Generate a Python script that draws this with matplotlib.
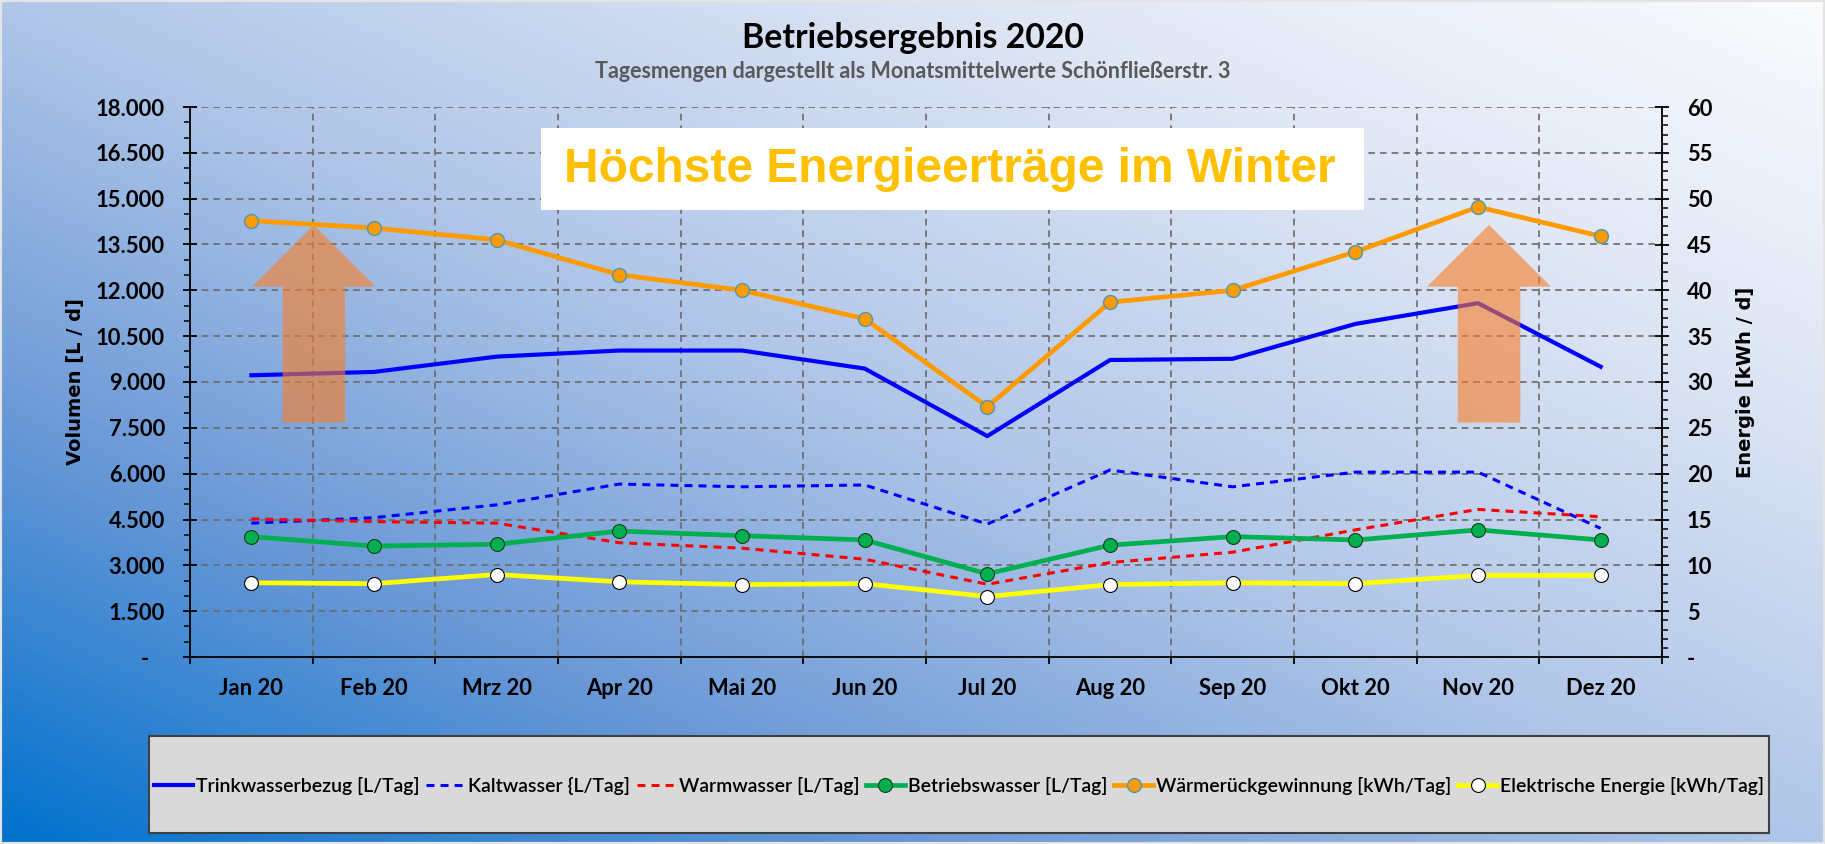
import matplotlib
matplotlib.use("Agg")
import matplotlib.pyplot as plt
import numpy as np
from matplotlib.patches import FancyArrow, Rectangle
from matplotlib.ticker import FuncFormatter, MultipleLocator, FixedLocator
from matplotlib.colors import LinearSegmentedColormap

plt.rcParams['font.family'] = ['Lato', 'DejaVu Sans']

# Monatsmittelwerte 2020
months = ["Jan 20", "Feb 20", "Mrz 20", "Apr 20", "Mai 20", "Jun 20",
          "Jul 20", "Aug 20", "Sep 20", "Okt 20", "Nov 20", "Dez 20"]
trinkwasser = [9220, 9330, 9830, 10030, 10030, 9440, 7230, 9720, 9760, 10900, 11580, 9500]
kaltwasser = [4380, 4560, 4980, 5660, 5570, 5630, 4350, 6120, 5570, 6050, 6050, 4210]
warmwasser = [4520, 4430, 4380, 3740, 3560, 3200, 2380, 3090, 3430, 4160, 4830, 4590]
betriebswasser = [3940, 3630, 3690, 4120, 3970, 3830, 2720, 3660, 3940, 3830, 4160, 3830]
waermerueck = [47.6, 46.8, 45.5, 41.7, 40.0, 36.9, 27.3, 38.7, 40.0, 44.2, 49.1, 45.9]
elektrisch = [8.1, 8.0, 9.0, 8.2, 7.9, 8.0, 6.6, 7.9, 8.1, 8.0, 8.9, 8.9]

labels = ["Trinkwasserbezug [L/Tag]", "Kaltwasser {L/Tag]", "Warmwasser [L/Tag]",
          "Betriebswasser [L/Tag]", "Wärmerückgewinnung [kWh/Tag]",
          "Elektrische Energie [kWh/Tag]"]

W, H = 1825, 844
fig = plt.figure(figsize=(W / 100, H / 100), dpi=100)

# diagonal gradient background
bg = fig.add_axes([0, 0, 1, 1], zorder=-10)
xx, yy = np.meshgrid(np.linspace(0, 1, 400), np.linspace(1, 0, 200))
t = (xx + yy) / 2
cmap = LinearSegmentedColormap.from_list("bg", [
    (0.0, (0 / 255, 114 / 255, 206 / 255)),
    (0.25, (105 / 255, 152 / 255, 214 / 255)),
    (0.5, (176 / 255, 198 / 255, 232 / 255)),
    (0.75, (220 / 255, 228 / 255, 244 / 255)),
    (1.0, (250 / 255, 251 / 255, 253 / 255))])
bg.imshow(t, cmap=cmap, aspect='auto', extent=[0, 1, 0, 1], vmin=0, vmax=1)
bg.set_axis_off()
fig.add_artist(Rectangle((0, 0), 1, 1, transform=fig.transFigure, fill=False,
                         edgecolor='#e4e4e4', lw=3))

ax1 = fig.add_axes([190 / W, 1 - 657 / H, 1472 / W, 550 / H])
ax2 = ax1.twinx()
for a in (ax1, ax2):
    a.set_facecolor('none')

x = np.arange(len(months))
l1, = ax1.plot(x, trinkwasser, color='#0000FF', lw=3)
l2, = ax1.plot(x, kaltwasser, color='#0000FF', lw=2.2, dashes=(2.6, 2.0))
l3, = ax1.plot(x, warmwasser, color='#FF0000', lw=2.2, dashes=(2.6, 2.0))
l4, = ax1.plot(x, betriebswasser, color='#00B050', lw=3.4, marker='o', ms=10,
               mfc='#00B050', mec='#1c3b1c', mew=0.8)
l5, = ax2.plot(x, waermerueck, color='#FF9A00', lw=3.4, marker='o', ms=10,
               mfc='#FF9A00', mec='#4A9AB5', mew=1.0)
l6, = ax2.plot(x, elektrisch, color='#FFFF00', lw=3.4, marker='o', ms=10,
               mfc='white', mec='black', mew=0.8)

# arrows
for cx in (0.51, 10.09):
    ax1.add_patch(FancyArrow(cx, 7670, 0, 6470, width=0.51, head_width=1.01,
                             head_length=2020, length_includes_head=True,
                             color='#FA7D25', alpha=0.6, lw=0, zorder=3))

ax1.set_xlim(-0.5, 11.5)
ax1.set_ylim(0, 18000)
ax2.set_ylim(0, 60)

ax1.yaxis.set_major_locator(MultipleLocator(1500))
ax1.yaxis.set_minor_locator(MultipleLocator(500))
ax2.yaxis.set_major_locator(MultipleLocator(5))
ax2.yaxis.set_minor_locator(MultipleLocator(1))


def fmt_left(v, pos):
    if v == 0:
        return "-   "
    return f"{int(v):,}".replace(",", ".")


def fmt_right(v, pos):
    if v == 0:
        return "-"
    return f"{int(v)}"


ax1.yaxis.set_major_formatter(FuncFormatter(fmt_left))
ax2.yaxis.set_major_formatter(FuncFormatter(fmt_right))

ax1.xaxis.set_major_locator(FixedLocator(np.arange(-0.5, 12, 1)))
ax1.xaxis.set_minor_locator(FixedLocator(x))
ax1.set_xticklabels([], minor=False)
ax1.set_xticklabels(months, minor=True)

tick_font = dict(labelsize=15.8)
ax1.tick_params(axis='x', which='major', direction='out', length=5, width=1.3)
ax1.tick_params(axis='x', which='minor', length=0, pad=15, **tick_font)
ax1.tick_params(axis='y', which='major', direction='inout', length=10, width=1.3, pad=13, **tick_font)
ax1.tick_params(axis='y', which='minor', direction='out', length=4, width=1.1)
ax2.tick_params(axis='y', which='major', direction='inout', length=10, width=1.3, pad=13, **tick_font)
ax2.tick_params(axis='y', which='minor', direction='out', length=4, width=1.1)
for lab in ax1.get_xticklabels(minor=True) + ax1.get_yticklabels() + ax2.get_yticklabels():
    lab.set_fontweight('bold')

ax1.grid(True, which='major', color='#6a6a6a', lw=1.2, ls=(0, (4, 3)))
ax1.set_axisbelow(True)

for s in ('top', 'right'):
    ax1.spines[s].set_visible(False)
for s in ('top', 'left', 'bottom'):
    ax2.spines[s].set_visible(False)
for a, s in ((ax1, 'left'), (ax1, 'bottom'), (ax2, 'right')):
    a.spines[s].set_linewidth(1.3)
    a.spines[s].set_color('black')

ax1.set_ylabel("Volumen [L / d]", family='DejaVu Sans', fontweight='bold', fontsize=14)
ax1.yaxis.set_label_coords(-0.071, 0.5)
ax2.set_ylabel("Energie [kWh / d]", family='DejaVu Sans', fontweight='bold', fontsize=14,
               rotation=90)
ax2.yaxis.set_label_coords(1.050, 0.5)

fig.text(0.5, 1 - 38 / H, "Betriebsergebnis 2020", ha='center', va='center',
         fontsize=24.4, fontweight='bold', color='black')
fig.text(0.5, 1 - 72 / H, "Tagesmengen dargestellt als Monatsmittelwerte Schönfließerstr. 3",
         ha='center', va='center', fontsize=15.5, fontweight='bold', color='#595959')

# highlight box
fig.add_artist(Rectangle((541 / W, 1 - 210 / H), 823 / W, 82 / H, transform=fig.transFigure,
                         facecolor='white', edgecolor='none', zorder=5))
fig.text(950 / W, 1 - 170 / H, "Höchste Energieerträge im Winter", ha='center', va='center',
         family=['Liberation Sans', 'DejaVu Sans'], fontsize=34.5, fontweight='bold',
         color='#FFC000', zorder=6)

# legend box
fig.add_artist(Rectangle((149 / W, 1 - 833 / H), 1620 / W, 97 / H, transform=fig.transFigure,
                         facecolor='#d9d9d9', edgecolor='#404040', lw=1.5, zorder=4))
leg = fig.legend([l1, l2, l3, l4, l5, l6], labels, loc='center',
                 bbox_to_anchor=(959 / W, 1 - 786 / H), ncol=6, frameon=False,
                 prop=dict(size=14, weight='semibold'),
                 handlelength=2.0, handletextpad=0.15, columnspacing=0.35)
leg.set_zorder(6)

fig.savefig("out.png", dpi=100)
